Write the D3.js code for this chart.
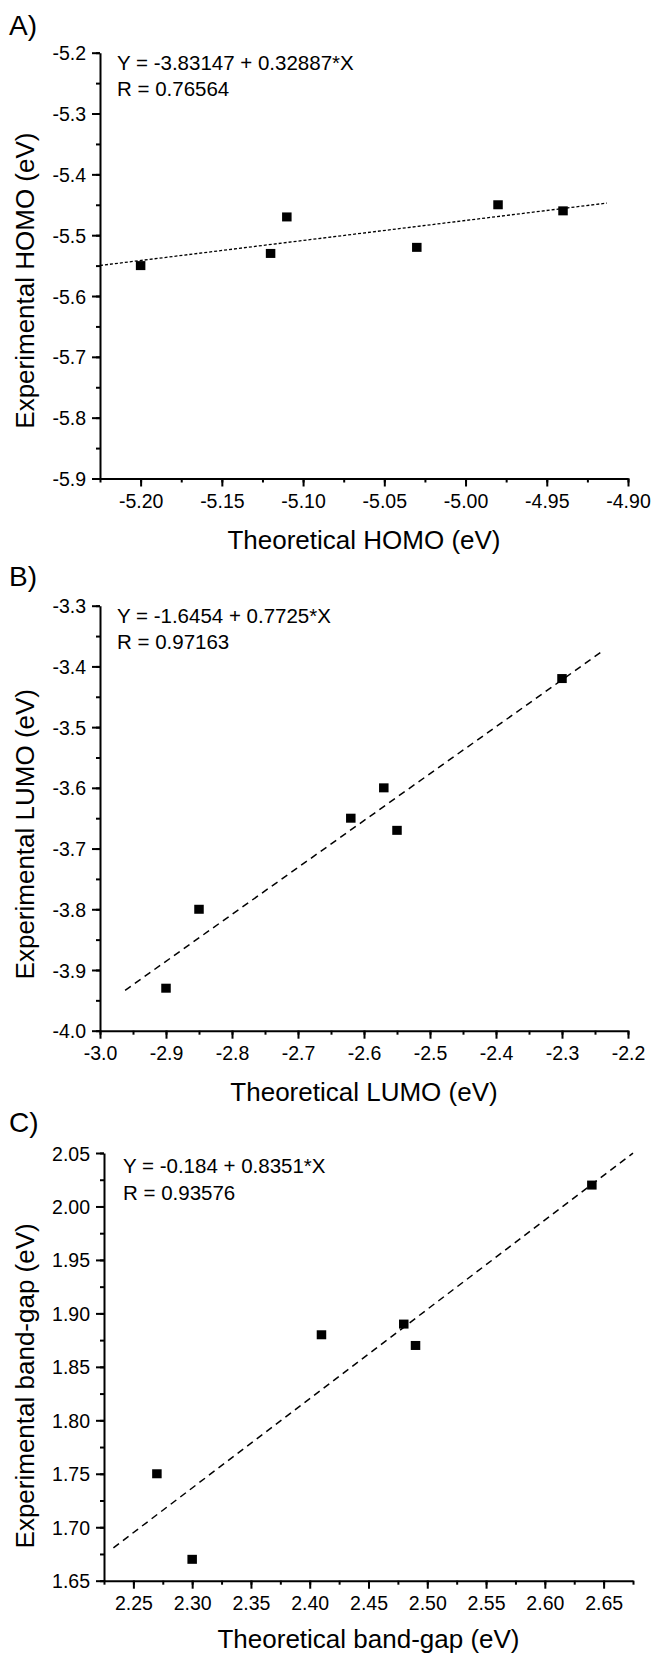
<!DOCTYPE html>
<html>
<head>
<meta charset="utf-8">
<script src="https://cdn.jsdelivr.net/npm/d3@7"></script>
<style>
  body { margin: 0; background: #fff; }
  svg { display: block; font-family: "Liberation Sans", Arial, sans-serif; }
  .axis path, .axis line { stroke: #000; stroke-width: 2; }
  .axis text { font-size: 19.5px; fill: #000; font-family: "Liberation Sans", Arial, sans-serif; }
</style>
</head>
<body>
<div id="chart"></div>
<script>
// data
const homoTheo = [-5.20, -5.12, -5.11, -5.03, -4.98, -4.94];
const homoExp  = [-5.55, -5.53, -5.47, -5.52, -5.45, -5.46];
const lumoTheo = [-2.90, -2.85, -2.62, -2.57, -2.55, -2.30];
const lumoExp  = [-3.93, -3.80, -3.65, -3.60, -3.67, -3.42];
const gapTheo  = [2.27, 2.30, 2.41, 2.48, 2.49, 2.64];
const gapExp   = [1.75, 1.67, 1.88, 1.89, 1.87, 2.02];

// linear fits (intercept, slope) and the x range the fit line covers
const homoFit = [-3.83147, 0.32887];
const lumoFit = [-1.6454, 0.7725];
const gapFit  = [-0.184, 0.8351];
const homoFitRange = [-5.225, -4.913];
const lumoFitRange = [-2.962, -2.239];
const gapFitRange  = [2.233, 2.675];

// axis domains and tick labels
const homoXDomain = [-5.225, -4.90];
const homoYDomain = [-5.9, -5.2];
const homoXTicks = [-5.20, -5.15, -5.10, -5.05, -5.00, -4.95, -4.90];
const homoYTicks = [-5.9, -5.8, -5.7, -5.6, -5.5, -5.4, -5.3, -5.2];
const lumoXDomain = [-3.0, -2.2];
const lumoYDomain = [-4.0, -3.3];
const lumoXTicks = [-3.0, -2.9, -2.8, -2.7, -2.6, -2.5, -2.4, -2.3, -2.2];
const lumoYTicks = [-4.0, -3.9, -3.8, -3.7, -3.6, -3.5, -3.4, -3.3];
const gapXDomain = [2.225, 2.675];
const gapYDomain = [1.65, 2.05];
const gapXTicks = [2.25, 2.30, 2.35, 2.40, 2.45, 2.50, 2.55, 2.60, 2.65];
const gapYTicks = [1.65, 1.70, 1.75, 1.80, 1.85, 1.90, 1.95, 2.00, 2.05];

const width = 654, height = 1655;

const svg = d3.select('#chart').append('svg')
    .attr('width', width)
    .attr('height', height);

function drawPanel(p) {
  let g = svg.append('g');

  let x = d3.scaleLinear().domain(p.xDomain).range([p.left, p.right]);
  let y = d3.scaleLinear().domain(p.yDomain).range([p.bottom, p.top]);

  // minor ticks halfway between the major ones
  let xMinor = d3.range(p.xDomain[0], p.xDomain[1] + 1e-9, p.xStep / 2);
  let yMinor = d3.range(p.yDomain[0], p.yDomain[1] + 1e-9, p.yStep / 2);

  g.append('g')
      .attr('class', 'axis')
      .attr('transform', `translate(0,${p.bottom})`)
      .call(d3.axisBottom(x).tickValues(xMinor).tickSize(4).tickFormat(''))
      .call(a => a.select('.domain').remove());

  g.append('g')
      .attr('class', 'axis')
      .attr('transform', `translate(${p.left},0)`)
      .call(d3.axisLeft(y).tickValues(yMinor).tickSize(4).tickFormat(''))
      .call(a => a.select('.domain').remove());

  g.append('g')
      .attr('class', 'axis')
      .attr('transform', `translate(0,${p.bottom})`)
      .call(d3.axisBottom(x).tickValues(p.xTicks).tickSize(8).tickSizeOuter(0)
        .tickFormat(d => d.toFixed(p.xDec)))
      .call(a => a.selectAll('text').attr('y', 29).attr('dy', null));

  g.append('g')
      .attr('class', 'axis')
      .attr('transform', `translate(${p.left},0)`)
      .call(d3.axisLeft(y).tickValues(p.yTicks).tickSize(8).tickSizeOuter(0)
        .tickFormat(d => d.toFixed(p.yDec)))
      .call(a => a.selectAll('text').attr('x', -14).attr('dy', '0.36em'));

  // fit line
  let f = p.fit;
  let line = d3.line().x(d => x(d)).y(d => y(f[0] + f[1] * d));
  g.append('path')
      .datum(p.fitRange)
      .attr('d', line)
      .attr('fill', 'none')
      .attr('stroke', '#000')
      .attr('stroke-width', p.dashWidth)
      .attr('stroke-dasharray', p.dash);

  // data squares
  let pts = p.xs.map((v, i) => [v, p.ys[i]]);
  g.selectAll('rect.pt')
      .data(pts)
      .join('rect')
      .attr('class', 'pt')
      .attr('x', d => x(d[0]) - 4.75)
      .attr('y', d => y(d[1]) - 4.5)
      .attr('width', 9.5)
      .attr('height', 9)
      .attr('fill', '#000');

  // equation text
  g.append('text')
      .attr('x', p.left + p.eqDx)
      .attr('y', p.top + p.eqDy)
      .style('font-size', '20.5px')
      .text(p.eq[0]);
  g.append('text')
      .attr('x', p.left + p.eqDx)
      .attr('y', p.top + p.eqDy + 26.5)
      .style('font-size', '20.5px')
      .text(p.eq[1]);

  // axis titles
  g.append('text')
      .attr('x', (p.left + p.right) / 2)
      .attr('y', p.bottom + p.xTitleDy)
      .attr('text-anchor', 'middle')
      .style('font-size', '26px')
      .text(p.xTitle);

  g.append('text')
      .attr('transform', `translate(34,${(p.top + p.bottom) / 2 + p.yTitleShift}) rotate(-90)`)
      .attr('text-anchor', 'middle')
      .style('font-size', '26px')
      .text(p.yTitle);

  // panel letter
  g.append('text')
      .attr('x', 9)
      .attr('y', p.letterY)
      .style('font-size', '28px')
      .text(p.letter);
}

drawPanel({
  xs: homoTheo, ys: homoExp, fit: homoFit, fitRange: homoFitRange,
  xDomain: homoXDomain, yDomain: homoYDomain, xTicks: homoXTicks, yTicks: homoYTicks,
  xStep: 0.05, yStep: 0.1, xDec: 2, yDec: 1,
  left: 100, right: 628, top: 52.7, bottom: 478.5,
  dash: '3,2', dashWidth: 1.3,
  eq: ['Y = -3.83147 + 0.32887*X', 'R = 0.76564'], eqDx: 17, eqDy: 17,
  xTitle: 'Theoretical HOMO (eV)', xTitleDy: 70,
  yTitle: 'Experimental HOMO (eV)', yTitleShift: 15,
  letter: 'A)', letterY: 35
});

drawPanel({
  xs: lumoTheo, ys: lumoExp, fit: lumoFit, fitRange: lumoFitRange,
  xDomain: lumoXDomain, yDomain: lumoYDomain, xTicks: lumoXTicks, yTicks: lumoYTicks,
  xStep: 0.1, yStep: 0.1, xDec: 1, yDec: 1,
  left: 100, right: 628, top: 605.7, bottom: 1030.7,
  dash: '7,5', dashWidth: 1.5,
  eq: ['Y = -1.6454 + 0.7725*X', 'R = 0.97163'], eqDx: 17, eqDy: 17,
  xTitle: 'Theoretical LUMO (eV)', xTitleDy: 70,
  yTitle: 'Experimental LUMO (eV)', yTitleShift: 16,
  letter: 'B)', letterY: 586
});

drawPanel({
  xs: gapTheo, ys: gapExp, fit: gapFit, fitRange: gapFitRange,
  xDomain: gapXDomain, yDomain: gapYDomain, xTicks: gapXTicks, yTicks: gapYTicks,
  xStep: 0.05, yStep: 0.05, xDec: 2, yDec: 2,
  left: 104, right: 633, top: 1153, bottom: 1580.7,
  dash: '7,5', dashWidth: 1.5,
  eq: ['Y = -0.184 + 0.8351*X', 'R = 0.93576'], eqDx: 19, eqDy: 20,
  xTitle: 'Theoretical band-gap (eV)', xTitleDy: 67,
  yTitle: 'Experimental band-gap (eV)', yTitleShift: 19,
  letter: 'C)', letterY: 1132
});
</script>
</body>
</html>
